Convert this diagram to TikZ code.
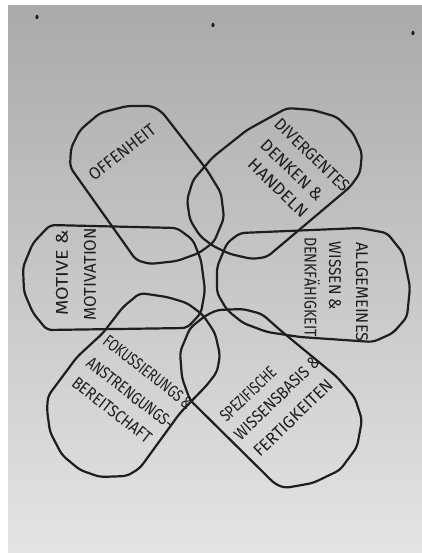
\documentclass[tikz,border=0pt]{standalone}
\usepackage{fontspec}
\setmainfont{Fira Sans}
\usepackage{graphicx}
\newcommand{\fitw}[2]{\resizebox{#1pt}{\height}{#2}}
\definecolor{ink}{HTML}{1E1E1E}
\definecolor{papertop}{RGB}{170,170,170}
\definecolor{papermid}{RGB}{212,212,212}
\definecolor{paperbot}{RGB}{228,228,228}
\tikzset{
  petal/.style={draw=ink, line width=2.2pt, rounded corners=5pt, line join=round},
  lbl/.style={text=ink, inner sep=0pt, font=\fontsize{17}{17}\selectfont},
  pin/.style={fill=ink, draw=none}
}
\begin{document}
\begin{tikzpicture}[x=1pt,y=-1pt]
\useasboundingbox (0,0) rectangle (422,553);
\fill[white] (0,0) rectangle (422,553);
\shade[top color=papertop, middle color=papermid, bottom color=paperbot] (8,6) rectangle (422,553);
% pins
\fill[pin] (37,17) ellipse (1.6 and 2.2);
\fill[pin] (213,25) ellipse (1.6 and 2.2);
\fill[pin] (413,33) ellipse (1.6 and 2.2);
% petal A: Offenheit
\draw[petal] (70,167) -- (71,148) -- (80,130) -- (100,113) -- (127,106) -- (152,106) -- (162,112)
  -- (207,170) -- (221,193) -- (224,218) -- (214,242) -- (199,253) -- (177,261) -- (150,264)
  -- (136,260) -- cycle;
% petal B: Divergentes
\draw[petal] (287,108) -- (313,110) -- (337,117) -- (353,133) -- (362,153) -- (360,173) -- (350,187)
  -- (267,257) -- (252,259) -- (230,254) -- (213,246) -- (200,236) -- (190,220) -- (187,200)
  -- (193,180) -- (213,157) -- (247,130) -- cycle;
% petal C: Allgemeines
\draw[petal] (240,233) -- (360,228) -- (387,233) -- (403,253) -- (410,287) -- (407,317) -- (393,333)
  -- (373,342) -- (300,337) -- (267,332) -- (243,323) -- (227,310) -- (217,293) -- (217,267)
  -- (227,243) -- cycle;
% petal D: Spezifische
\draw[petal] (217,310) -- (243,309) -- (262,314) -- (280,330) -- (337,377) -- (355,398) -- (362,420)
  -- (357,447) -- (340,470) -- (313,483) -- (285,488) -- (275,484) -- (190,400) -- (182,378)
  -- (180,352) -- (190,328) -- (205,316) -- cycle;
% petal E: Fokussierung
\draw[petal] (140,293) -- (167,297) -- (187,303) -- (203,315) -- (215,333) -- (220,355) -- (217,372)
  -- (207,385) -- (180,413) -- (140,468) -- (127,476) -- (100,477) -- (80,470) -- (62,455)
  -- (50,432) -- (47,410) -- (48,396) -- (77,357) -- (103,333) -- (123,307) -- cycle;
% petal F: Motive
\draw[petal] (50,225) -- (177,228) -- (193,240) -- (201,260) -- (205,290) -- (201,313) -- (187,328)
  -- (47,330) -- (33,313) -- (24,292) -- (23,267) -- (33,243) -- cycle;
% labels
\node[lbl, rotate=38] (tA) at (122,152) {\fitw{80}{OFFENHEIT}};
\node[lbl, rotate=-44] (tB1) at (312,155) {\fitw{97}{DIVERGENTES}};
\node[lbl, rotate=-44] (tB2) at (292,170) {\fitw{80}{DENKEN \&}};
\node[lbl, rotate=-44] (tB3) at (278,188) {\fitw{76}{HANDELN}};
\node[lbl, rotate=90] (tF1) at (62,273) {\fitw{85}{MOTIVE \&}};
\node[lbl, rotate=90] (tF2) at (90,274) {\fitw{92}{MOTIVATION}};
\node[lbl, rotate=-90] (tC1) at (362,292) {\fitw{99}{ALLGEMEINES}};
\node[lbl, rotate=-90] (tC2) at (335,276) {\fitw{68}{WISSEN \&}};
\node[lbl, rotate=-90] (tC3) at (312,287) {\fitw{100}{DENKFÄHIGKEIT}};
\node[lbl, rotate=-38] (tE1) at (148,372) {\fitw{108}{FOKUSSIERUNGS\,\&}};
\node[lbl, rotate=-38] (tE2) at (130,393) {\fitw{105}{ANSTRENGUNGS-}};
\node[lbl, rotate=-38] (tE3) at (112,410) {\fitw{96}{BEREITSCHAFT}};
\node[lbl, rotate=44] (tD1) at (248,394) {\fitw{71}{SPEZIFISCHE}};
\node[lbl, rotate=44] (tD2) at (277,398) {\fitw{112}{WISSENSBASIS \&}};
\node[lbl, rotate=44] (tD3) at (293,418) {\fitw{103}{FERTIGKEITEN}};
\end{tikzpicture}
\end{document}
